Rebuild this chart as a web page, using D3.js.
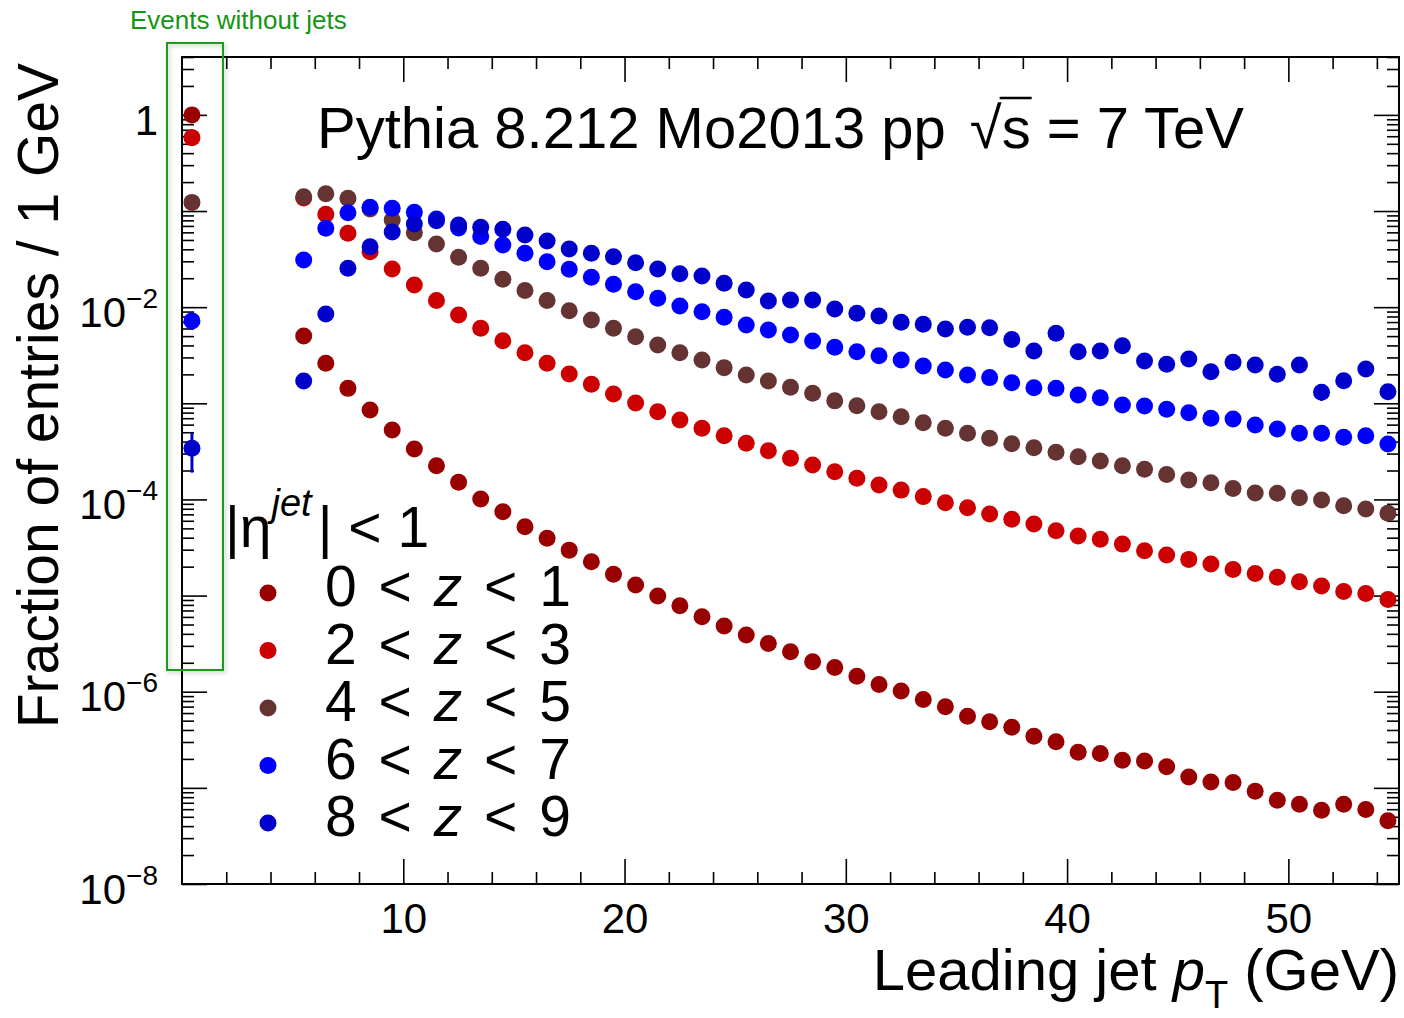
<!DOCTYPE html>
<html>
<head>
<meta charset="utf-8">
<script src="https://cdn.jsdelivr.net/npm/d3@7"></script>
<style>
  body { margin: 0; background: #fff; }
  svg text { font-family: "Liberation Sans", Arial, Helvetica, sans-serif; }
</style>
</head>
<body>
<div id="chart"></div>
<script>
var width = 1404,
    height = 1018;

// leading jet pT bin centres (GeV)
var ptCenters = [5.5, 6.5, 7.5, 8.5, 9.5, 10.5, 11.5, 12.5, 13.5, 14.5,
                 15.5, 16.5, 17.5, 18.5, 19.5, 20.5, 21.5, 22.5, 23.5, 24.5,
                 25.5, 26.5, 27.5, 28.5, 29.5, 30.5, 31.5, 32.5, 33.5, 34.5,
                 35.5, 36.5, 37.5, 38.5, 39.5, 40.5, 41.5, 42.5, 43.5, 44.5,
                 45.5, 46.5, 47.5, 48.5, 49.5, 50.5, 51.5, 52.5, 53.5, 54.5];

var z01 = [5.0e-3, 2.61e-3, 1.43e-3, 8.5e-4, 5.27e-4, 3.34e-4, 2.24e-4, 1.51e-4, 1.01e-4, 7.45e-5,
           5.2e-5, 3.94e-5, 2.97e-5, 2.25e-5, 1.67e-5, 1.29e-5, 9.9e-6, 7.83e-6, 6.01e-6, 4.82e-6,
           3.88e-6, 3.18e-6, 2.60e-6, 2.05e-6, 1.79e-6, 1.45e-6, 1.19e-6, 1.02e-6, 8.3e-7, 6.97e-7,
           5.57e-7, 4.86e-7, 4.28e-7, 3.45e-7, 3.01e-7, 2.34e-7, 2.28e-7, 1.94e-7, 1.90e-7, 1.66e-7,
           1.30e-7, 1.15e-7, 1.14e-7, 9.2e-8, 7.45e-8, 6.76e-8, 5.86e-8, 6.76e-8, 5.96e-8, 4.54e-8];

var z23 = [0.137, 0.0926, 0.0588, 0.0378, 0.0250, 0.0170, 0.0117, 8.3e-3, 6.03e-3, 4.48e-3,
           3.36e-3, 2.61e-3, 2.02e-3, 1.58e-3, 1.25e-3, 1.01e-3, 8.18e-4, 6.70e-4, 5.50e-4, 4.60e-4,
           3.84e-4, 3.21e-4, 2.68e-4, 2.28e-4, 1.94e-4, 1.66e-4, 1.41e-4, 1.25e-4, 1.07e-4, 9.24e-5,
           8.2e-5, 7.05e-5, 6.21e-5, 5.55e-5, 4.72e-5, 4.16e-5, 3.85e-5, 3.43e-5, 2.92e-5, 2.64e-5,
           2.38e-5, 2.13e-5, 1.87e-5, 1.70e-5, 1.55e-5, 1.39e-5, 1.26e-5, 1.10e-5, 1.05e-5, 9.1e-6];

var z45 = [0.141, 0.151, 0.136, 0.105, 0.0808, 0.0596, 0.0455, 0.0331, 0.0254, 0.0195,
           0.0149, 0.0117, 9.2e-3, 7.36e-3, 6.03e-3, 4.93e-3, 4.04e-3, 3.36e-3, 2.82e-3, 2.35e-3,
           1.97e-3, 1.71e-3, 1.47e-3, 1.27e-3, 1.06e-3, 9.44e-4, 8.18e-4, 7.26e-4, 6.28e-4, 5.50e-4,
           4.88e-4, 4.32e-4, 3.80e-4, 3.45e-4, 3.09e-4, 2.78e-4, 2.51e-4, 2.24e-4, 2.06e-4, 1.82e-4,
           1.59e-4, 1.49e-4, 1.30e-4, 1.17e-4, 1.16e-4, 1.04e-4, 9.86e-5, 8.6e-5, 7.94e-5, 7.17e-5];

var z67 = [0.0310, 0.0662, 0.0962, 0.1095, 0.107, 0.0972, 0.0828, 0.0667, 0.0542, 0.0444,
           0.0364, 0.0297, 0.0248, 0.0205, 0.0173, 0.0145, 0.0124, 0.0103, 8.98e-3, 7.85e-3,
           6.53e-3, 5.79e-3, 5.14e-3, 4.45e-3, 3.83e-3, 3.44e-3, 3.13e-3, 2.82e-3, 2.44e-3, 2.22e-3,
           1.97e-3, 1.85e-3, 1.64e-3, 1.45e-3, 1.43e-3, 1.22e-3, 1.14e-3, 9.6e-4, 9.37e-4, 8.67e-4,
           7.98e-4, 6.98e-4, 6.87e-4, 5.94e-4, 5.40e-4, 4.88e-4, 4.88e-4, 4.43e-4, 4.60e-4, 3.77e-4];

var z89 = [1.71e-3, 8.5e-3, 0.0254, 0.0426, 0.0606, 0.0734, 0.0794, 0.0717, 0.0678, 0.0647,
           0.0564, 0.0489, 0.0403, 0.0364, 0.0335, 0.0290, 0.0250, 0.0222, 0.0211, 0.0177,
           0.0151, 0.0116, 0.0119, 0.0119, 9.58e-3, 8.64e-3, 8.1e-3, 6.97e-3, 6.64e-3, 5.93e-3,
           6.18e-3, 6.12e-3, 4.61e-3, 3.50e-3, 5.35e-3, 3.44e-3, 3.50e-3, 3.97e-3, 2.75e-3, 2.55e-3,
           2.89e-3, 2.13e-3, 2.67e-3, 2.50e-3, 2.00e-3, 2.50e-3, 1.30e-3, 1.72e-3, 2.28e-3, 1.32e-3];

// the few visible error bars of the 8<z<9 series
var z89ErrPt = [51.5, 54.5];
var z89Err = [2.4e-4, 2.4e-4];

// "events without jets" bin, one value per z range
var noJetPt = 0.45;
var noJet = [1.0, 0.58, 0.123, 0.0072, 3.4e-4];
var noJetErr = [0, 0, 0, 0, 1.5e-4];

var zLow = [0, 2, 4, 6, 8];
var zHigh = [1, 3, 5, 7, 9];
var colors = ["#990000", "#cc0000", "#663333", "#0000ff", "#0000cc"];
var series = [z01, z23, z45, z67, z89];

var xTicksMajor = [10, 20, 30, 40, 50];
var yDecades = [-8, -7, -6, -5, -4, -3, -2, -1, 0];
var yLabelled = [-8, -6, -4, -2, 0];

var pLeft = 182, pRight = 1399, pTop = 57, pBottom = 884;

var svg = d3.select("#chart").append("svg")
    .attr("width", width)
    .attr("height", height);

var x = d3.scaleLinear().domain([0, 55]).range([pLeft, pRight]);
var y = d3.scaleLog().domain([1e-8, 4.0]).range([pBottom, pTop]);

// minor tick values
var xMinor = d3.range(2, 55, 2).filter(function(d) { return d % 10 != 0; });
var yMinor = [];
yDecades.forEach(function(e) {
  for (var k = 2; k <= 9; k++) {
    var v = k * Math.pow(10, e);
    if (v <= 4.0) yMinor.push(v);
  }
});
var yMajor = yDecades.map(function(e) { return Math.pow(10, e); });

function tickAxis(axis, g, keepText) {
  g.call(axis);
  g.select(".domain").remove();
  g.selectAll("line").attr("stroke", "#000").attr("stroke-width", 1.6);
  if (!keepText) g.selectAll("text").remove();
}

// bottom / top axes
var gxb = svg.append("g").attr("transform", "translate(0," + pBottom + ")");
tickAxis(d3.axisBottom(x).tickValues(xTicksMajor).tickSize(-25).tickPadding(14).tickFormat(d3.format("d")), gxb, true);
gxb.selectAll("text").attr("font-size", 42).attr("fill", "#000")
   .attr("y", 49).attr("dy", 0).style("font-family", "'Liberation Sans', Arial, sans-serif");
tickAxis(d3.axisBottom(x).tickValues(xMinor).tickSize(-12), svg.append("g").attr("transform", "translate(0," + pBottom + ")"));
tickAxis(d3.axisTop(x).tickValues(xTicksMajor).tickSize(-25), svg.append("g").attr("transform", "translate(0," + pTop + ")"));
tickAxis(d3.axisTop(x).tickValues(xMinor).tickSize(-12), svg.append("g").attr("transform", "translate(0," + pTop + ")"));

// left / right axes
var gyl = svg.append("g").attr("transform", "translate(" + pLeft + ",0)");
tickAxis(d3.axisLeft(y).tickValues(yMajor).tickSize(-25).tickFormat(""), gyl, true);
tickAxis(d3.axisLeft(y).tickValues(yMinor).tickSize(-12), svg.append("g").attr("transform", "translate(" + pLeft + ",0)"));
tickAxis(d3.axisRight(y).tickValues(yMajor).tickSize(-25), svg.append("g").attr("transform", "translate(" + pRight + ",0)"));
tickAxis(d3.axisRight(y).tickValues(yMinor).tickSize(-12), svg.append("g").attr("transform", "translate(" + pRight + ",0)"));

// y labels with superscript exponents
gyl.selectAll(".tick").each(function(d) {
  var e = Math.round(Math.log10(d));
  var t = d3.select(this).select("text");
  if (yLabelled.indexOf(e) < 0) { t.remove(); return; }
  t.attr("x", -24).attr("y", e == 0 ? 20 : 19).attr("dy", 0)
   .attr("text-anchor", "end").attr("fill", "#000").attr("font-size", 42)
   .style("font-family", "'Liberation Sans', Arial, sans-serif");
  if (e == 0) {
    t.text("1");
  } else {
    t.append("tspan").text("10");
    t.append("tspan").attr("font-size", 28).attr("dy", -19).text("\u2212" + (-e));
  }
});

// frame
svg.append("rect")
    .attr("x", pLeft).attr("y", pTop)
    .attr("width", pRight - pLeft).attr("height", pBottom - pTop)
    .attr("fill", "none").attr("stroke", "#000").attr("stroke-width", 2);

// "events without jets" box
var defs = svg.append("defs");
var f = defs.append("filter").attr("id", "shadow").attr("x", "-50%").attr("y", "-10%").attr("width", "200%").attr("height", "120%");
f.append("feDropShadow").attr("dx", 1.5).attr("dy", 2).attr("stdDeviation", 2)
    .attr("flood-color", "#000").attr("flood-opacity", 0.25);

svg.append("rect")
    .attr("x", 167).attr("y", 43).attr("width", 56).attr("height", 627)
    .attr("fill", "none").attr("stroke", "#1f9a1f").attr("stroke-width", 2)
    .attr("filter", "url(#shadow)");
svg.append("text")
    .attr("x", 130).attr("y", 29)
    .attr("font-size", 26).attr("fill", "#139613")
    .text("Events without jets");

// error bars
svg.append("g").selectAll("line")
    .data(z89ErrPt)
    .enter().append("line")
    .attr("x1", function(d) { return x(d); })
    .attr("x2", function(d) { return x(d); })
    .attr("y1", function(d, i) { return y(z89[ptCenters.indexOf(d)] - z89Err[i]); })
    .attr("y2", function(d, i) { return y(z89[ptCenters.indexOf(d)] + z89Err[i]); })
    .attr("stroke", colors[4]).attr("stroke-width", 2.5);

svg.append("g").selectAll("line")
    .data(noJet.filter(function(d, i) { return noJetErr[i] > 0; }))
    .enter().append("line")
    .attr("x1", x(noJetPt)).attr("x2", x(noJetPt))
    .attr("y1", function(d) { return y(d - noJetErr[noJet.indexOf(d)]); })
    .attr("y2", function(d) { return y(d + noJetErr[noJet.indexOf(d)]); })
    .attr("stroke", colors[4]).attr("stroke-width", 3);

// markers
series.forEach(function(vals, s) {
  svg.append("g").selectAll("circle")
      .data(vals)
      .enter().append("circle")
      .attr("cx", function(d, i) { return x(ptCenters[i]); })
      .attr("cy", function(d) { return y(d); })
      .attr("r", 8.5)
      .attr("fill", colors[s]);
});

svg.append("g").selectAll("circle")
    .data(noJet)
    .enter().append("circle")
    .attr("cx", x(noJetPt))
    .attr("cy", function(d) { return y(d); })
    .attr("r", 8.5)
    .attr("fill", function(d, i) { return colors[i]; });

// legend
var head = svg.append("text").attr("x", 225).attr("y", 547).attr("font-size", 57);
head.append("tspan").text("|\u03B7");
head.append("tspan").attr("font-size", 38).attr("font-style", "italic").attr("dy", -31).text("jet");
head.append("tspan").attr("dy", 31).attr("dx", 6).text("| < 1");

var leg = svg.append("g").selectAll("g")
    .data(zLow)
    .enter().append("g")
    .attr("transform", function(d, i) { return "translate(0," + (606 + i * 57.5) + ")"; });
leg.append("circle").attr("cx", 268).attr("cy", -13).attr("r", 8.5)
    .attr("fill", function(d, i) { return colors[i]; });
var lt = leg.append("text").attr("x", 325).attr("y", 0).attr("font-size", 57)
    .attr("word-spacing", 6);
lt.append("tspan").text(function(d) { return d + " < "; });
lt.append("tspan").attr("font-style", "italic").text("z");
lt.append("tspan").text(function(d, i) { return " < " + zHigh[i]; });

// title with sqrt(s)
var titleSize = 58;
var t1 = svg.append("text").attr("x", 317).attr("y", 148).attr("font-size", titleSize)
    .text("Pythia 8.212 Mo2013 pp");
var w1 = t1.node().getComputedTextLength();
var rx = 317 + w1 + 24;
var rad = svg.append("text").attr("x", rx).attr("y", 148).attr("font-size", titleSize).text("\u221A");
var rb = rad.node().getBBox();
var sx = rx + rad.node().getComputedTextLength();
var st = svg.append("text").attr("x", sx).attr("y", 148).attr("font-size", titleSize).text("s");
var ws = st.node().getComputedTextLength();
svg.append("line")
    .attr("x1", sx - 2).attr("x2", sx + ws + 1)
    .attr("y1", rb.y + 3).attr("y2", rb.y + 3)
    .attr("stroke", "#000").attr("stroke-width", 2.5);
svg.append("text").attr("x", sx + ws).attr("y", 148).attr("font-size", titleSize)
    .attr("xml:space", "preserve")
    .text(" = 7 TeV");

// axis titles
var xt = svg.append("text").attr("x", pRight).attr("y", 990).attr("font-size", 58)
    .attr("text-anchor", "end");
xt.append("tspan").text("Leading jet ");
xt.append("tspan").attr("font-style", "italic").text("p");
xt.append("tspan").attr("font-size", 38).attr("dy", 18).text("T");
xt.append("tspan").attr("dy", -18).text(" (GeV)");

svg.append("text")
    .attr("transform", "translate(58,63) rotate(-90)")
    .attr("text-anchor", "end")
    .attr("font-size", 57)
    .text("Fraction of entries / 1 GeV");
</script>
</body>
</html>
